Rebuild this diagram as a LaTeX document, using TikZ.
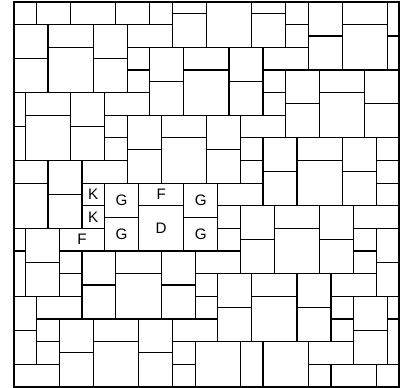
\documentclass[tikz,border=0pt]{standalone}
\usepackage{fontspec}
\setmainfont{Liberation Sans}
\usepackage{tikz}
\tikzset{
  tile/.style={draw=black,line width=1pt},
  frame/.style={draw=black,line width=1.7pt},
  tilelabel/.style={font=\fontsize{13}{13}\selectfont,inner sep=0pt}
}

\begin{document}
\begin{tikzpicture}[x=0.34cm,y=-0.34cm]
  \useasboundingbox (-1.24,-0.18) rectangle (34.19,34.1);

  %% Plain tiles, x-from/x-to/y-from/y-to on the 34x34 grid
  \foreach \xa/\xb/\ya/\yb in {
    0/2/0/2, 2/5/0/2, 5/9/0/2, 9/12/0/2, 12/14/0/2, 14/17/0/1, 14/17/1/4,
    17/21/0/4, 21/24/0/1, 21/24/1/4, 24/26/0/2, 24/26/2/4, 26/29/0/3,
    26/29/3/6, 29/33/0/2, 29/33/2/6, 33/34/0/3, 33/34/3/6,
    0/3/2/5, 0/3/5/8, 3/7/2/4, 3/7/4/8, 7/10/2/5, 7/10/5/8, 10/14/2/4,
    10/12/4/6, 10/12/6/8, 12/15/4/7, 12/15/7/10, 15/19/4/6, 15/19/6/10,
    19/22/4/7, 19/22/7/10, 22/26/4/6, 22/24/6/8, 22/24/8/10, 24/27/6/9,
    27/31/6/8, 31/34/6/9, 8/12/8/10, 24/27/9/12, 27/31/8/12, 31/34/9/12,
    0/1/8/11, 1/5/8/10, 5/8/8/11, 0/1/11/14, 1/5/10/14, 5/8/11/14,
    8/10/10/12, 8/10/12/14, 10/13/10/13, 10/13/13/16, 13/17/10/12,
    13/17/12/16, 17/20/10/13, 17/20/13/16, 20/24/10/12, 20/22/12/14,
    20/22/14/16, 22/25/12/15, 22/25/15/18, 25/29/12/14, 25/29/14/18,
    29/32/12/15, 29/32/15/18, 32/34/12/14, 32/34/14/16, 32/34/16/18,
    0/3/14/16, 0/3/16/20, 3/6/14/17, 3/6/17/20, 6/10/14/16,
    18/22/16/18, 18/20/18/20, 18/20/20/22, 20/23/18/21, 20/23/21/24,
    23/27/18/20, 23/27/20/24, 27/30/18/21, 27/30/21/24, 30/34/18/20,
    30/32/20/22, 30/32/22/24, 32/34/20/23, 32/34/23/26,
    0/1/20/22, 0/1/22/26, 1/4/20/23, 1/4/23/26, 4/6/22/24, 4/6/24/26,
    6/9/22/25, 6/9/25/28, 9/13/22/24, 9/13/24/28, 13/16/22/25,
    13/16/25/28, 16/20/22/24, 16/18/24/26, 16/18/26/28, 18/21/24/27,
    18/21/27/30, 21/25/24/26, 21/25/26/30, 25/28/24/27, 25/28/27/30,
    28/32/24/26, 28/30/26/28, 28/30/28/30, 30/33/26/29, 30/33/29/32,
    33/34/26/28, 33/34/28/32,
    0/2/26/29, 0/2/29/32, 0/4/32/34, 2/6/26/28, 2/4/28/30, 2/4/30/32,
    4/7/28/31, 4/7/31/34, 7/11/28/30, 7/11/30/34, 11/14/28/31,
    11/14/31/34, 14/18/28/30, 14/16/30/32, 14/16/32/34, 16/20/30/34,
    20/22/30/34, 22/26/30/34, 26/30/30/32, 26/28/32/34, 28/32/32/34,
    32/34/32/34}
    \draw[tile] (\xa,\ya) rectangle (\xb,\yb);

  %% Labelled patch
  \foreach \xa/\xb/\ya/\yb/\lab/\nm in {
    6/8/16/18/K/kup, 6/8/18/20/K/klow, 8/11/16/19/G/gleftup,
    8/11/19/22/G/gleftlow, 4/8/20/22/F/fleft, 11/15/16/18/F/fmid,
    11/15/18/22/D/dmid, 15/18/16/19/G/grightup, 15/18/19/22/G/grightlow} {
    \draw[tile] (\xa,\ya) rectangle (\xb,\yb);
    \node[tilelabel] (\nm) at ({(\xa+\xb)/2},{(\ya+\yb)/2}) {\lab};
  }

  %% Outer frame
  \draw[frame] (0,0) rectangle (34,34);
\end{tikzpicture}
\end{document}
